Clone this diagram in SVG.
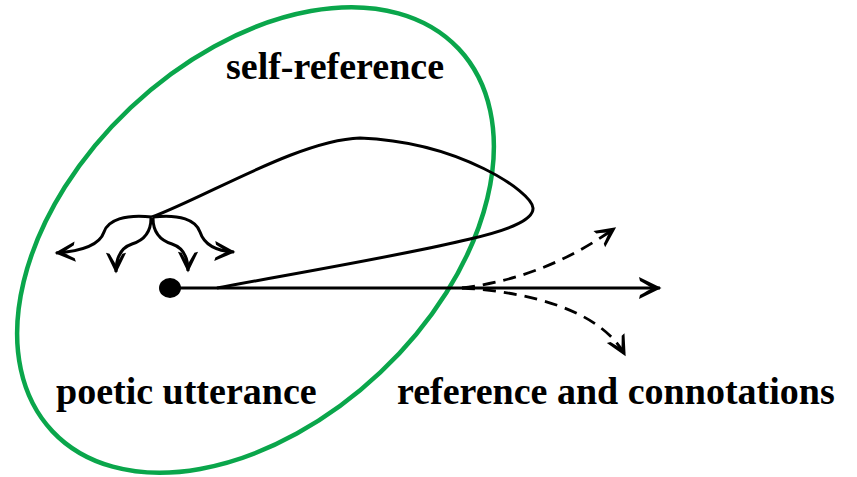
<svg xmlns="http://www.w3.org/2000/svg" width="857" height="477" viewBox="0 0 857 477">
<style>
.lbl{font-family:"Liberation Serif","Times New Roman",serif;font-weight:bold;font-size:38px;fill:#000}
.ln{fill:none;stroke:#000;stroke-width:3;stroke-linecap:butt}
.dash{fill:none;stroke:#000;stroke-width:2.8;stroke-dasharray:13 8}
</style>
<defs>
<marker id="ah" viewBox="-24 -12 26 24" refX="0" refY="0" markerWidth="26" markerHeight="24" markerUnits="userSpaceOnUse" orient="auto">
<path d="M1.5,0 L-21,-11 L-20,-7 Q-12,-2.5 -8,0 Q-12,2.5 -20,7 L-21,11 Z" fill="#000"/>
</marker>
<marker id="ahs" viewBox="-24 -12 26 24" refX="0" refY="0" markerWidth="24" markerHeight="22" markerUnits="userSpaceOnUse" orient="auto">
<path d="M1.5,0 L-21,-11 L-20,-7 Q-12,-2.5 -8,0 Q-12,2.5 -20,7 L-21,11 Z" fill="#000"/>
</marker>
</defs>
<rect width="857" height="477" fill="#fff"/>
<g id="ellipse-region">
<ellipse cx="255.5" cy="240" rx="279" ry="182" transform="rotate(-43.3 255.5 240)" fill="none" stroke="#0AA64B" stroke-width="4.5"/>
</g>
<g id="connectors">
<path class="ln" d="M170,288 L660,288" marker-end="url(#ah)"/>
<path class="ln" d="M217,288 C280,276 400,256 470,239 C500,232 534,222 533,208 C532,192 460,142 360,138 C300,140 210,195 152,217"/>
<path class="ln" d="M152,217 C125,214 108,220 104,232 C100,244 85,251 56,253" marker-end="url(#ahs)"/>
<path class="ln" d="M151,218 C151,232 145,240 132,244 C120,248 116,258 116,272" marker-end="url(#ahs)"/>
<path class="ln" d="M153,218 C153,232 159,240 172,244 C184,248 188,258 188,271" marker-end="url(#ahs)"/>
<path class="ln" d="M153,217 C180,214 196,220 200,232 C204,244 215,251 234,252" marker-end="url(#ahs)"/>
<path class="dash" d="M462,288 C520,281 570,260 615,228" marker-end="url(#ahs)"/>
<path class="dash" d="M462,288 C530,292 600,310 625,355" marker-end="url(#ahs)"/>
</g>
<g id="origin">
<ellipse cx="170" cy="288" rx="11" ry="10" fill="#000"/>
</g>
<g id="self-reference"><text class="lbl" x="226" y="79">self-reference</text></g>
<g id="poetic-utterance"><text class="lbl" x="56" y="404">poetic utterance</text></g>
<g id="reference-connotations"><text class="lbl" x="397" y="404">reference and connotations</text></g>
</svg>
